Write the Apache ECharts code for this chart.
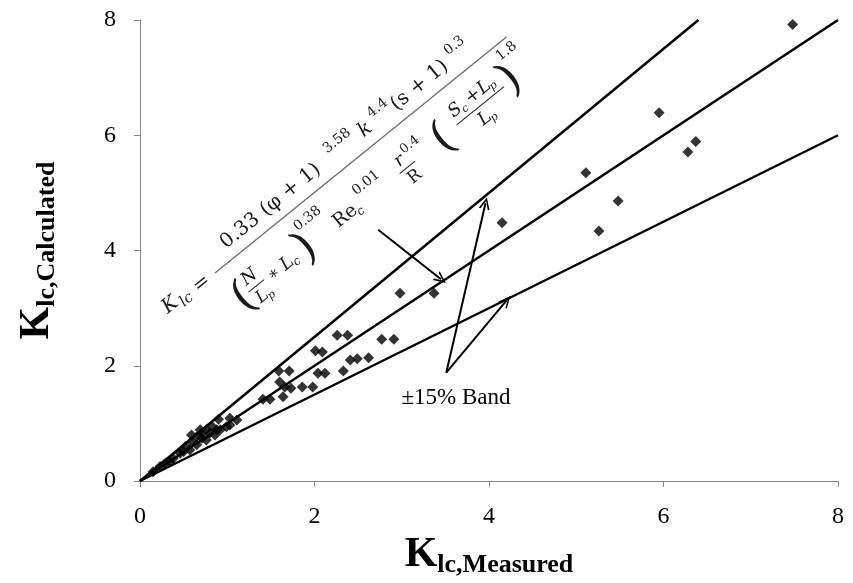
<!DOCTYPE html>
<html>
<head>
<meta charset="utf-8">
<script src="https://cdn.jsdelivr.net/npm/echarts@6.0.0/dist/echarts.min.js"></script>
<style>
  html, body { margin: 0; padding: 0; background: #fff; }
  #chartDIV { width: 853px; height: 583px; }
</style>
</head>
<body>
<div id="chartDIV"></div>
<script>
// measured vs calculated K_lc
var measured = [7.48, 5.95, 6.37, 6.28, 5.11, 5.48, 5.26, 4.15, 2.98, 3.37,
    2.26, 2.38, 2.77, 2.91, 2.01, 2.09, 2.41, 2.49, 2.62, 1.59, 1.71, 2.04, 2.12, 2.33,
    1.60, 1.66, 1.73, 1.86, 1.98, 1.64, 1.41, 1.49,
    0.90, 0.83, 0.76, 0.71, 0.65, 0.59, 0.52, 0.46, 0.38, 0.29, 0.23, 0.15,
    1.03, 1.11, 0.99, 0.92, 0.86, 0.80, 0.71, 0.65, 0.76, 0.59, 0.69, 0.88, 1.03, 0.57, 0.34, 0.50];
var calculated = [7.92, 6.39, 5.89, 5.71, 5.35, 4.86, 4.34, 4.48, 3.26, 3.26,
    2.53, 2.53, 2.46, 2.46, 2.26, 2.24, 2.10, 2.12, 2.14, 1.91, 1.91, 1.87, 1.87, 1.91,
    1.72, 1.63, 1.61, 1.63, 1.63, 1.46, 1.42, 1.42,
    1.07, 0.94, 0.89, 0.83, 0.77, 0.68, 0.60, 0.48, 0.39, 0.31, 0.25, 0.16,
    1.09, 1.06, 0.94, 0.89, 0.80, 0.83, 0.74, 0.63, 0.71, 0.80, 0.89, 0.89, 0.97, 0.54, 0.34, 0.51];
var axisTicks = [0, 2, 4, 6, 8];
var bandUpper = 1.25;
var bandLower = 0.75;

var points = [];
for (var i = 0; i < measured.length; i++) {
    points.push([measured[i], calculated[i]]);
}
var axMax = axisTicks[axisTicks.length - 1];

var serif = '"Liberation Serif", "DejaVu Serif", serif';
var axisColor = '#868686';
var fc = '#1a1a1a';
var chevron = 'path://M5,0 L10,10 L8.4,10 L5,3 L1.6,10 L0,10 Z';

// formula pieces, local coords along the fraction bar
function t(txt, x, y, size, italic) {
    return {
        type: 'text', x: x, y: y,
        style: {
            text: txt, fill: fc, fontFamily: '"DejaVu Serif", serif',
            fontSize: size, fontStyle: italic ? 'italic' : 'normal',
            align: 'center', verticalAlign: 'middle',
            textAlign: 'center', textVerticalAlign: 'middle'
        }
    };
}
function bar(x1, x2, y, col, w) {
    return {
        type: 'line',
        shape: { x1: x1, y1: y, x2: x2, y2: y },
        style: { stroke: col || fc, lineWidth: w || 1 }
    };
}
var formula = [
    t('K', -55, -3, 20, true), t('lc', -39, 3, 15, true), t('=', -17, 0, 20, false),
    bar(0, 375, 0, '#707070', 1.5),
    t('0.33', 46, -17, 20, false),
    t('(φ + 1)', 111, -17, 20, false),
    t('3.58', 178, -26, 14, false),
    t('k', 207, -17, 20, true),
    t('4.4', 230, -26, 14, false),
    t('(s + 1)', 277, -17, 20, false),
    t('0.3', 329, -26, 14, false),
    t('(', 7, 38, 44, false),
    t('N', 24, 25, 18, true), bar(14, 34, 36), t('L', 22, 48, 17, true), t('p', 30, 53, 11, true),
    t('∗', 45, 38, 17, false), t('L', 62, 38, 18, true), t('c', 71, 43, 12, true),
    t(')', 86, 38, 44, false),
    t('0.38', 106, 16, 14, false),
    t('Re', 137, 38, 19, false), t('c', 152, 44, 12, true),
    t('0.01', 174, 25, 14, false),
    t('r', 214, 29, 18, true), t('0.4', 232, 23, 13, false),
    bar(206, 226, 39), t('R', 216, 51, 17, false),
    t('(', 262, 40, 44, false),
    t('S', 289, 25, 18, true), t('c', 298, 30, 11, true), t('+', 312, 25, 18, false),
    t('L', 326, 25, 18, true), t('p', 334, 30, 11, true),
    bar(281, 342, 37), t('L', 307, 50, 18, true), t('p', 315, 55, 11, true),
    t(')', 351, 36, 44, false),
    t('1.8', 366, 11, 14, false)
];

var myChart = echarts.init(document.getElementById('chartDIV'));
var option = {
    animation: false,
    grid: { left: 140, right: 15, top: 20, bottom: 102 },
    xAxis: {
        type: 'value', min: 0, max: axMax, interval: 2,
        name: '{k|K}{s|lc,Measured}',
        nameLocation: 'middle', nameGap: 39,
        nameTextStyle: {
            rich: {
                k: { fontFamily: serif, fontWeight: 'bold', fontSize: 42, lineHeight: 46, color: '#000' },
                s: { fontFamily: serif, fontWeight: 'bold', fontSize: 26, lineHeight: 20, verticalAlign: 'bottom', color: '#000' }
            }
        },
        axisLine: { lineStyle: { color: axisColor, width: 1 } },
        axisTick: { length: 6, lineStyle: { color: axisColor } },
        axisLabel: { fontFamily: serif, fontSize: 24, color: '#000', margin: 24 },
        splitLine: { show: false }
    },
    yAxis: {
        type: 'value', min: 0, max: axMax, interval: 2,
        name: '{k|K}{s|lc,Calculated}',
        nameLocation: 'middle', nameGap: 80,
        nameTextStyle: {
            rich: {
                k: { fontFamily: serif, fontWeight: 'bold', fontSize: 42, lineHeight: 46, color: '#000' },
                s: { fontFamily: serif, fontWeight: 'bold', fontSize: 26, lineHeight: 20, verticalAlign: 'bottom', color: '#000' }
            }
        },
        axisLine: { show: true, lineStyle: { color: axisColor, width: 1 } },
        axisTick: { show: true, length: 6, lineStyle: { color: axisColor } },
        axisLabel: { fontFamily: serif, fontSize: 24, color: '#000', margin: 24 },
        splitLine: { show: false }
    },
    series: [
        {
            type: 'line', symbol: 'none', silent: true,
            data: [[0, 0], [axMax, axMax]],
            lineStyle: { color: '#000', width: 2.5 }
        },
        {
            type: 'line', symbol: 'none', silent: true,
            data: [[0, 0], [axMax / bandUpper, axMax]],
            lineStyle: { color: '#000', width: 2.5 }
        },
        {
            type: 'line', symbol: 'none', silent: true,
            data: [[0, 0], [axMax, axMax * bandLower]],
            lineStyle: { color: '#000', width: 2.5 },
            markLine: {
                silent: true,
                symbol: ['none', chevron],
                symbolSize: [11, 12],
                label: { show: false },
                lineStyle: { color: '#000', width: 2, type: 'solid' },
                data: [
                    [{ coord: [2.73, 4.36] }, { coord: [3.45, 3.5] }],
                    [{ coord: [3.51, 1.88] }, { coord: [3.96, 4.82] }],
                    [{ coord: [3.51, 1.88] }, { coord: [4.2, 3.13] }]
                ]
            }
        },
        {
            type: 'scatter',
            symbol: 'diamond', symbolSize: 11,
            itemStyle: { color: '#000' },
            data: points,
            z: 5
        }
    ],
    graphic: [
        {
            type: 'group', x: 215, y: 273, rotation: 39 * Math.PI / 180,
            children: formula
        },
        {
            type: 'text', x: 456, y: 398,
            style: {
                text: '±15% Band', fill: '#000', fontFamily: serif, fontSize: 23,
                align: 'center', verticalAlign: 'middle',
                textAlign: 'center', textVerticalAlign: 'middle'
            }
        }
    ]
};
myChart.setOption(option);
</script>
</body>
</html>
